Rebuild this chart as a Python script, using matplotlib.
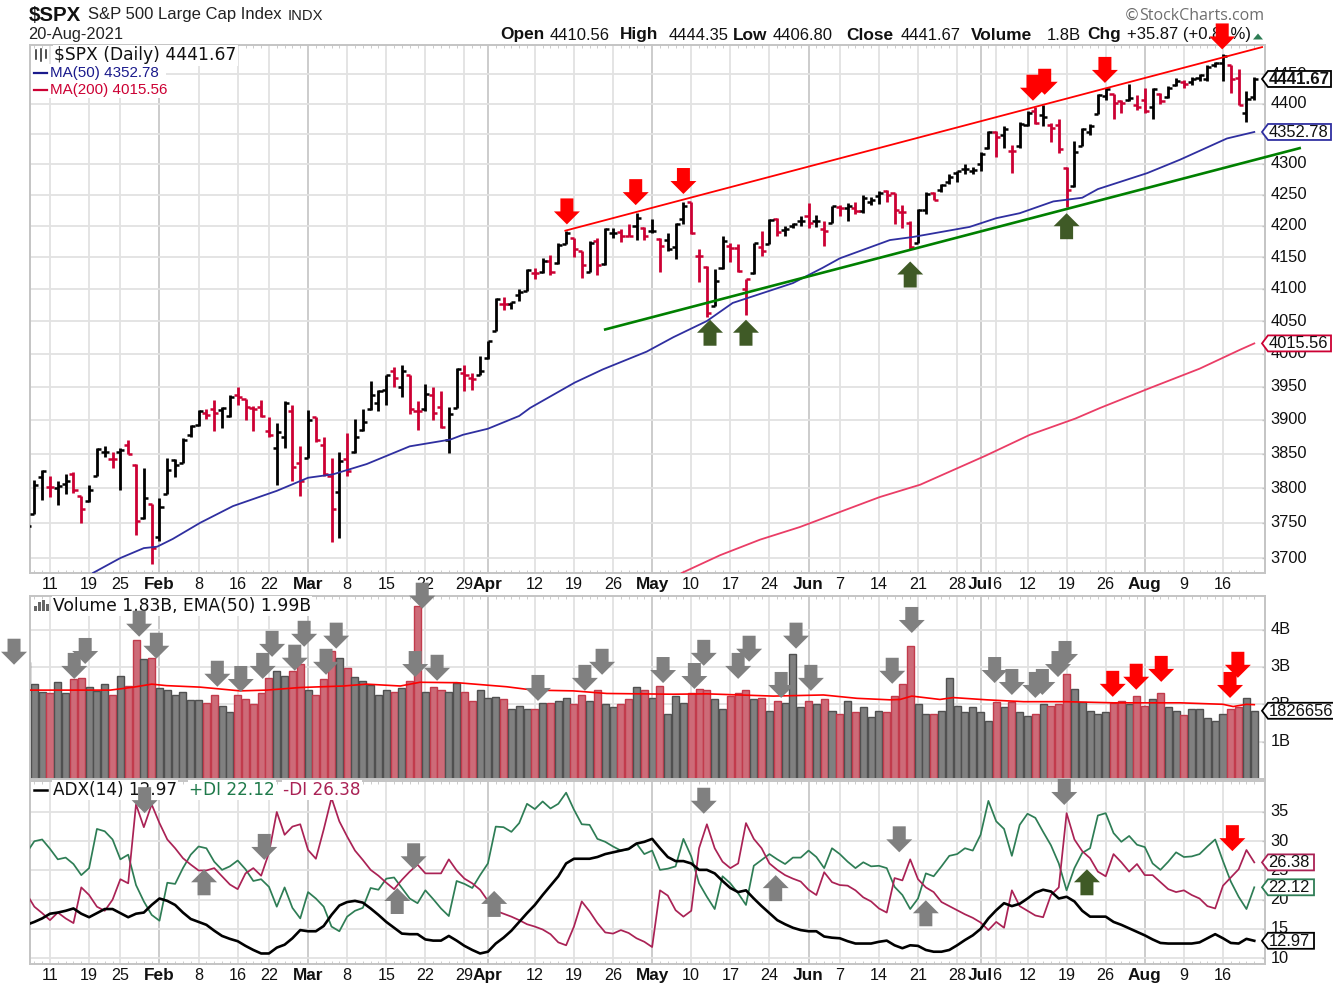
import numpy as np
import matplotlib
matplotlib.use('Agg')
import matplotlib.pyplot as plt
from matplotlib.patches import Polygon, Rectangle
from matplotlib.ticker import NullLocator
from matplotlib.transforms import ScaledTranslation

plt.rcParams['font.family'] = ['Liberation Sans', 'DejaVu Sans']

W, H = 1333, 990

# daily bars, starting three sessions before the 11 Jan gridline
opens = [3750, 3763, 3816, 3802, 3800, 3806, 3820, 3788, 3782, 3818,
         3853, 3842, 3852, 3863, 3834, 3757, 3777, 3730, 3792, 3841,
         3837, 3878, 3892, 3910, 3917, 3915, 3906, 3938, 3932, 3918,
         3920, 3883, 3858, 3875, 3913, 3837, 3844, 3904, 3863, 3818,
         3795, 3843, 3853, 3885, 3916, 3925, 3945, 3973, 3950, 3967,
         3913, 3917, 3937, 3919, 3870, 3918, 3971, 3963, 3967, 3993,
         4035, 4077, 4076, 4090, 4097, 4125, 4127, 4143, 4140, 4171,
         4180, 4160, 4127, 4175, 4139, 4188, 4190, 4184, 4199, 4196,
         4191, 4179, 4177, 4166, 4210, 4238, 4151, 4135, 4074, 4132,
         4168, 4165, 4099, 4125, 4166, 4171, 4210, 4193, 4200, 4207,
         4215, 4207, 4194, 4205, 4230, 4228, 4228, 4223, 4238, 4248,
         4256, 4252, 4222, 4205, 4173, 4225, 4252, 4258, 4271, 4285,
         4291, 4288, 4300, 4327, 4353, 4348, 4322, 4329, 4364, 4387,
         4381, 4365, 4365, 4294, 4264, 4330, 4353, 4383, 4413, 4416,
         4404, 4406, 4398, 4407, 4394, 4416, 4412, 4431, 4436, 4437,
         4444, 4442, 4466, 4468, 4465, 4443, 4385, 4410.56]
highs = [3760, 3812, 3827, 3817, 3811, 3821, 3823, 3788, 3805, 3859,
         3862, 3852, 3858, 3870, 3835, 3829, 3777, 3785, 3844, 3843,
         3873, 3893, 3915, 3917, 3930, 3920, 3938, 3949, 3932, 3921,
         3930, 3904, 3896, 3928, 3923, 3862, 3915, 3905, 3875, 3844,
         3853, 3880, 3902, 3917, 3959, 3945, 3968, 3980, 3982, 3968,
         3928, 3954, 3949, 3943, 3920, 3978, 3982, 3970, 3996, 4020,
         4085, 4087, 4080, 4099, 4131, 4133, 4148, 4153, 4172, 4192,
         4181, 4160, 4175, 4180, 4196, 4196, 4194, 4203, 4220, 4198,
         4211, 4181, 4188, 4204, 4238, 4238, 4163, 4136, 4131, 4183,
         4173, 4171, 4116, 4173, 4191, 4211, 4213, 4199, 4205, 4215,
         4236, 4217, 4207, 4232, 4233, 4237, 4238, 4250, 4246, 4256,
         4258, 4253, 4233, 4207, 4226, 4254, 4255, 4267, 4283, 4289,
         4300, 4295, 4320, 4355, 4355, 4362, 4332, 4369, 4387, 4394,
         4397, 4367, 4374, 4295, 4338, 4360, 4366, 4416, 4426, 4417,
         4407, 4434, 4414, 4426, 4426, 4418, 4430, 4443, 4440, 4445,
         4450, 4466, 4471, 4484, 4466, 4458, 4422, 4444.35]
lows = [3740, 3763, 3783, 3787, 3775, 3791, 3793, 3750, 3780, 3818,
        3846, 3829, 3797, 3849, 3733, 3756, 3692, 3724, 3791, 3816,
        3837, 3875, 3891, 3902, 3884, 3888, 3905, 3923, 3900, 3884,
        3904, 3875, 3804, 3858, 3811, 3788, 3844, 3868, 3818, 3722,
        3729, 3818, 3851, 3884, 3915, 3914, 3923, 3950, 3935, 3909,
        3885, 3913, 3900, 3888, 3851, 3918, 3943, 3945, 3967, 3992,
        4034, 4067, 4069, 4081, 4096, 4115, 4125, 4121, 4139, 4170,
        4150, 4117, 4126, 4122, 4138, 4181, 4174, 4183, 4177, 4177,
        4188, 4127, 4159, 4147, 4203, 4187, 4110, 4056, 4073, 4131,
        4142, 4126, 4060, 4124, 4152, 4170, 4183, 4184, 4196, 4200,
        4196, 4198, 4167, 4204, 4215, 4207, 4219, 4220, 4233, 4235,
        4238, 4203, 4197, 4163, 4172, 4218, 4242, 4255, 4267, 4271,
        4283, 4284, 4288, 4325, 4312, 4327, 4286, 4327, 4362, 4366,
        4362, 4336, 4318, 4230, 4262, 4329, 4348, 4382, 4406, 4374,
        4384, 4405, 4389, 4384, 4374, 4400, 4410, 4429, 4427, 4432,
        4439, 4439, 4462, 4439, 4418, 4397, 4370, 4406.80]
closes = [3745, 3804, 3825, 3802, 3803, 3810, 3797, 3770, 3797, 3857,
          3853, 3842, 3855, 3850, 3753, 3785, 3714, 3772, 3826, 3833,
          3871, 3891, 3913, 3908, 3911, 3918, 3935, 3935, 3920, 3917,
          3906, 3877, 3882, 3925, 3831, 3810, 3900, 3871, 3820, 3770,
          3840, 3825, 3875, 3897, 3937, 3943, 3967, 3963, 3973, 3916,
          3914, 3939, 3911, 3890, 3909, 3977, 3968, 3962, 3973, 4019,
          4084, 4077, 4079, 4095, 4130, 4125, 4143, 4127, 4169, 4188,
          4162, 4137, 4172, 4138, 4194, 4188, 4184, 4184, 4212, 4183,
          4192, 4167, 4162, 4203, 4231, 4188, 4151, 4062, 4113, 4175,
          4165, 4128, 4115, 4172, 4159, 4209, 4190, 4195, 4203, 4208,
          4205, 4208, 4192, 4231, 4229, 4231, 4223, 4244, 4242, 4253,
          4250, 4225, 4222, 4166, 4225, 4251, 4242, 4265, 4279, 4288,
          4291, 4290, 4317, 4352, 4344, 4358, 4322, 4366, 4384, 4367,
          4378, 4360, 4325, 4257, 4320, 4357, 4363, 4414, 4424, 4401,
          4401, 4410, 4394, 4387, 4424, 4404, 4427, 4439, 4434, 4442,
          4449, 4462, 4468, 4481, 4441, 4398, 4408, 4441.67]
down_days = [0, 3, 4, 8, 10, 11, 13, 20, 21, 24, 25, 26, 27, 28, 31, 32, 34, 35, 36, 38,
             44, 46, 47, 49, 50, 53, 54, 58, 62, 64, 67, 68, 70, 73, 74, 76, 78, 82, 83, 84,
             87, 88, 89, 91, 93, 97, 99, 101, 103, 107, 108, 109, 110, 113, 121, 123, 126,
             128, 129, 130, 136, 137, 139, 140, 142, 145, 151, 152]

ma50_days = [5.5, 9, 12, 13.7, 15.7, 19.2, 23.4, 29, 33, 36.2, 40.5, 46, 51.2, 52.8, 56, 60, 61.4,
             67.1, 70.7, 76.3, 79.7, 84, 87.3, 95, 98.8, 101, 107.4, 110.4, 117.6, 121, 124,
             128.3, 132, 134, 140.3, 144.5, 150.5, 154]
ma50 = [3679, 3700, 3714, 3716, 3727, 3750, 3774, 3796, 3815, 3820, 3835, 3861, 3871, 3878, 3887,
        3906, 3918, 3956, 3976, 4003, 4025, 4050, 4078, 4109, 4133, 4148, 4177, 4182, 4198,
        4212, 4220, 4239, 4245, 4259, 4285, 4307, 4342, 4352.78]
ma200_days = [80.8, 85.7, 90.8, 95.9, 99.7, 106.1, 111.3, 119.6, 125.3, 131.1, 134.3, 140.7, 147, 152.2, 154]
ma200 = [3679, 3704, 3726, 3744, 3760, 3787, 3805, 3847, 3878, 3902, 3918, 3948, 3977, 4006, 4015.56]

upper_channel = ([65.9, 155], [4192, 4496])
lower_channel = ([71, 159.8], [4037, 4326])

# volume in billions
volume = [3.14, 2.54, 2.34, 2.29, 2.59, 2.29, 2.67, 2.71, 2.46, 2.36,
          2.54, 2.25, 2.76, 2.50, 3.72, 3.21, 3.25, 2.43, 2.38, 2.25,
          2.34, 2.12, 2.12, 2.04, 2.25, 1.96, 1.79, 2.25, 2.13, 2.01,
          2.29, 2.71, 2.88, 2.76, 2.89, 3.08, 2.37, 2.25, 2.67, 3.43,
          3.25, 2.96, 2.74, 2.63, 2.52, 2.25, 2.38, 2.34, 2.43, 2.63,
          4.64, 2.34, 2.47, 2.38, 2.34, 2.58, 2.34, 2.09, 2.38, 2.18,
          2.20, 2.13, 1.88, 1.96, 1.88, 1.88, 2.04, 2.04, 2.09, 2.18,
          2.00, 2.25, 2.09, 2.38, 2.00, 1.92, 2.00, 2.13, 2.47, 2.38,
          2.18, 2.50, 1.74, 2.22, 2.04, 2.29, 2.42, 2.38, 2.13, 1.88,
          2.22, 2.29, 2.38, 2.13, 2.18, 1.83, 2.09, 2.04, 3.34, 1.92,
          2.09, 2.00, 2.13, 1.83, 1.74, 2.09, 1.79, 1.92, 1.67, 1.83,
          1.79, 2.22, 2.54, 3.56, 2.00, 1.74, 1.74, 1.83, 2.71, 1.96,
          1.79, 1.92, 1.79, 1.54, 2.05, 1.92, 2.05, 1.79, 1.70, 1.74,
          2.00, 1.96, 2.00, 2.80, 2.41, 2.05, 1.83, 1.74, 1.79, 2.03,
          2.09, 2.00, 2.22, 1.96, 2.13, 2.29, 1.92, 1.83, 1.71, 1.88,
          1.88, 1.63, 1.54, 1.74, 1.88, 1.94, 2.18, 1.83]
ema_days = [-3, 4.3, 7.7, 10.7, 13, 14.9, 19.2, 24.3, 27.7, 32, 37.5, 40.5, 44.8, 47.3, 51.2, 52,
            58.4, 61.8, 66.9, 71.2, 79.7, 84, 92.5, 98.9, 103.2, 107.4, 108.7, 110.2, 113.8,
            115.5, 119.8, 124.5, 130, 136, 144.5, 150, 151.3, 153, 154]
ema50 = [2.38, 2.38, 2.38, 2.46, 2.54, 2.50, 2.46, 2.36, 2.38, 2.45, 2.49, 2.54, 2.49, 2.59, 2.58, 2.58,
         2.47, 2.38, 2.36, 2.29, 2.27, 2.28, 2.22, 2.25, 2.16, 2.12, 2.13, 2.22, 2.13,
         2.18, 2.12, 2.07, 2.07, 2.04, 2.04, 2.00, 1.94, 2.00, 1.99]

plus_di = [28.0, 30.0, 30.3, 28.7, 26.9, 27.2, 26.1, 24.2, 25.4, 32.1,
           31.7, 30.3, 26.9, 27.7, 22.5, 19.7, 17.4, 16.4, 22.9, 22.7,
           25.4, 27.7, 29.1, 28.8, 26.5, 25.1, 25.7, 26.7, 25.2, 23.2,
           23.5, 22.2, 18.8, 22.1, 18.6, 16.8, 21.3, 20.2, 18.8, 15.4,
           14.6, 17.1, 18.1, 18.6, 22.0, 21.7, 23.6, 23.8, 22.0, 20.2,
           19.4, 21.6, 20.1, 18.5, 17.2, 23.2, 22.7, 22.0, 24.2, 26.2,
           32.5, 32.4, 31.6, 33.1, 36.4, 35.5, 36.8, 35.6, 36.4, 38.3,
           35.4, 32.9, 32.8, 30.4, 29.9, 29.1, 28.4, 28.6, 29.6, 27.8,
           28.4, 25.1, 25.3, 25.7, 30.4, 27.4, 22.8, 20.5, 18.4, 24.0,
           22.8, 21.1, 19.1, 25.8, 26.8, 27.8, 26.9, 26.1, 27.2, 27.2,
           28.4, 27.3, 25.4, 28.8, 27.8, 26.5, 25.4, 26.4, 25.7, 25.8,
           25.4, 22.2, 20.8, 18.4, 20.2, 24.5, 24.0, 25.7, 27.5, 27.8,
           28.8, 28.4, 31.1, 36.9, 33.4, 32.1, 27.5, 32.8, 34.7, 34.0,
           31.6, 29.3, 26.2, 21.6, 25.4, 28.0, 28.8, 34.4, 34.8, 31.4,
           29.9, 30.9, 29.4, 29.0, 26.2, 25.1, 26.5, 28.1, 27.3, 27.4,
           27.8, 29.1, 30.3, 26.6, 23.1, 20.5, 18.4, 22.12]
minus_di = [21.0, 18.8, 17.7, 16.5, 17.8, 16.8, 16.0, 22.1, 20.8, 18.8,
            18.1, 20.0, 23.5, 22.8, 36.3, 32.4, 36.3, 33.1, 30.3, 28.8,
            27.1, 26.0, 25.0, 25.0, 25.4, 24.0, 22.6, 21.8, 24.5, 25.4,
            24.1, 28.0, 35.0, 31.1, 32.5, 32.9, 28.5, 27.0, 32.0, 37.4,
            33.4, 30.8, 28.4, 26.8, 25.1, 24.1, 22.9, 21.8, 23.4, 24.8,
            26.0, 24.5, 24.5, 24.5, 26.9, 25.0, 23.6, 22.8, 21.7, 19.8,
            18.1, 17.6, 17.1, 16.5, 15.8, 15.4, 14.9, 14.1, 12.7, 12.2,
            15.4, 19.7, 18.0, 16.0, 14.4, 14.2, 14.8, 14.3, 13.4, 12.8,
            11.9, 21.6, 20.7, 18.2, 17.1, 18.1, 28.8, 32.9, 28.8, 26.5,
            25.4, 26.2, 33.1, 30.4, 28.8, 26.2, 25.1, 24.2, 23.6, 23.1,
            21.7, 20.8, 24.7, 23.0, 22.5, 22.4, 21.6, 20.4, 19.7, 18.5,
            17.8, 23.7, 23.3, 26.9, 23.5, 22.1, 21.3, 19.6, 18.9, 18.2,
            17.5, 16.9, 16.1, 14.8, 16.2, 15.2, 21.6, 18.9, 18.1, 17.3,
            17.0, 20.8, 22.1, 34.8, 30.3, 28.3, 27.1, 24.8, 24.0, 27.8,
            26.4, 24.8, 26.1, 24.2, 24.2, 23.0, 21.8, 21.3, 21.6, 20.8,
            20.2, 18.9, 18.5, 22.4, 23.8, 25.2, 28.5, 26.38]
adx = [15.7, 16.2, 16.8, 17.6, 17.8, 18.1, 18.5, 17.6, 17.0, 17.7,
       18.4, 18.4, 17.7, 17.0, 17.6, 17.8, 19.1, 20.2, 19.8, 19.1,
       17.8, 16.7, 16.2, 15.7, 14.7, 13.8, 13.3, 12.9, 12.1, 11.4,
       10.8, 10.8, 11.8, 12.3, 13.4, 14.8, 14.6, 14.6, 15.5, 17.4,
       19.0, 19.6, 19.8, 19.5, 18.5, 17.4, 16.2, 15.2, 14.2, 14.1,
       14.1, 13.2, 13.0, 13.0, 13.8, 13.0, 12.1, 11.4, 10.8, 11.1,
       12.5, 13.5, 14.7, 16.2, 17.7, 19.1, 20.8, 22.4, 24.0, 26.2,
       27.0, 27.0, 27.0, 27.3, 27.8, 28.1, 28.4, 28.7, 29.6, 29.9,
       30.4, 28.8, 27.3, 26.6, 26.6, 26.2, 25.1, 25.1, 24.5, 23.2,
       22.0, 21.3, 21.6, 20.2, 18.9, 17.7, 16.5, 15.8, 15.2, 14.8,
       14.6, 14.6, 13.7, 13.5, 13.4, 12.9, 12.5, 12.5, 12.5, 12.8,
       13.0, 12.2, 11.7, 12.2, 12.1, 11.4, 11.1, 11.1, 11.4, 12.2,
       13.1, 13.9, 15.0, 16.8, 18.2, 19.4, 18.9, 19.3, 20.2, 21.2,
       21.7, 21.4, 20.2, 20.5, 19.7, 18.1, 17.1, 17.1, 17.1, 16.2,
       15.7, 15.1, 14.5, 13.9, 13.2, 12.6, 12.5, 12.5, 12.5, 12.5,
       12.7, 13.4, 14.1, 13.4, 12.6, 12.5, 13.3, 12.97]

date_ticks = [0, 5, 9, 14, 19, 24, 28, 33, 38, 43, 48, 53, 56, 62, 67, 72, 77, 82, 87, 92,
              97, 101, 106, 111, 116, 119, 121, 125, 130, 135, 140, 145, 150]
date_labels = ['11', '19', '25', 'Feb', '8', '16', '22', 'Mar', '8', '15', '22', '29', 'Apr', '12',
               '19', '26', 'May', '10', '17', '24', 'Jun', '7', '14', '21', '28', 'Jul', '6', '12',
               '19', '26', 'Aug', '9', '16']
months = ['Feb', 'Mar', 'Apr', 'May', 'Jun', 'Jul', 'Aug']

price_ticks = list(range(3700, 4500, 50))
volume_ticks = [1, 2, 3, 4]
adx_ticks = [10, 15, 20, 25, 30, 35]

# annotation arrows: (session, value, colour, points up)
GREY, RED, DKGREEN = '#808080', '#ff0000', '#3f5a26'
price_arrows = [(66.1, 4202, RED, False), (74.9, 4233, RED, False), (81, 4251, RED, False),
                (125.7, 4405, RED, False), (127.2, 4415, RED, False), (134.9, 4435, RED, False),
                (149.9, 4492, RED, False), (84.4, 4052, DKGREEN, True), (89, 4052, DKGREEN, True),
                (110, 4143, DKGREEN, True), (130, 4220, DKGREEN, True)]
volume_arrows_grey = [(-4.6, 3.06), (4.5, 3.08), (3.1, 2.68), (11.4, 3.81), (13.6, 3.22), (21.4, 2.47),
                      (24.4, 2.33), (28.4, 3.27), (27.2, 2.68), (32.5, 3.54), (31.3, 2.90), (36.6, 3.49),
                      (35.3, 2.79), (47.6, 4.56), (46.7, 2.73), (49.5, 2.63), (62.4, 2.09), (68.4, 2.36),
                      (70.6, 2.79), (78.4, 2.57), (82.4, 2.41), (83.6, 3.03), (88, 2.68), (89.4, 3.14),
                      (93.5, 2.17), (95.4, 3.49), (97.3, 2.36), (107.7, 2.55), (110.2, 3.91), (120.8, 2.57),
                      (123, 2.25), (126, 2.17), (126.9, 2.25), (128.9, 2.73), (129.8, 3.00)]
volume_arrows_red = [(135.9, 2.20), (138.9, 2.39), (142.1, 2.60), (150.9, 2.17), (151.9, 2.71)]
adx_arrows = [(12.1, 34.8, GREY, False), (27.4, 26.8, GREY, False), (46.5, 25.2, GREY, False),
              (19.7, 25.2, GREY, True), (44.4, 22.0, GREY, True), (56.8, 21.5, GREY, True),
              (83.6, 34.7, GREY, False), (92.8, 24.2, GREY, True), (108.6, 28.1, GREY, False),
              (112, 19.9, GREY, True), (129.7, 36.2, GREY, False), (132.6, 25.2, DKGREEN, True),
              (151.2, 28.3, RED, False)]

BAR_RED = '#cc0033'
NAVY = '#2f2fa0'
DI_GREEN = '#2e7d55'
DI_RED = '#aa2255'
GRID = '#e2e2e2'
GRID_MONTH = '#c8c8c8'
SPINE = '#c4c4c4'

fig = plt.figure(figsize=(W / 100, H / 100), dpi=100, facecolor='white')


def panel(top, bottom, left=30, right=1265):
    return fig.add_axes([left / W, 1 - bottom / H, (right - left) / W, (bottom - top) / H])


ax1 = panel(45, 573)
ax2 = panel(596, 779)
ax3 = panel(781, 964)
xlim = ((30 - 50) / 7.82, (1265 - 50) / 7.82)

overlay = fig.add_axes([0, 0, 1, 1], zorder=10)
overlay.set_xlim(0, W)
overlay.set_ylim(H, 0)
overlay.axis('off')
overlay.patch.set_alpha(0)

x = np.arange(len(closes)) - 3
is_down = np.isin(x, down_days)
bar_colors = [BAR_RED if d else 'black' for d in is_down]

# price
ax1.set_yscale('log')
ax1.vlines(x, lows, highs, colors=bar_colors, lw=2.0, zorder=3)
ax1.hlines(opens, x - 0.52, x, colors=bar_colors, lw=1.8, zorder=3)
ax1.hlines(closes, x, x + 0.52, colors=bar_colors, lw=1.8, zorder=3)
ax1.plot(ma50_days, ma50, color=NAVY, lw=1.3, zorder=4)
ax1.plot(ma200_days, ma200, color='#ea3d66', lw=1.3, zorder=4)
ax1.set_ylim(3678.9, 4499.6)
ax1.plot(*upper_channel, color='#ff0000', lw=1.3, zorder=5, clip_on=False)
ax1.plot(*lower_channel, color='#008000', lw=1.9, zorder=5, clip_on=False)
ax1.set_yticks(price_ticks)
ax1.set_yticklabels([str(v) for v in price_ticks])
ax1.yaxis.set_minor_locator(NullLocator())

# volume
vol_fill = ['#cd6b78' if d else '#808080' for d in is_down]
vol_edge = ['#c23b4c' if d else '#505050' for d in is_down]
ax2.bar(x, volume, width=0.9, color=vol_fill, edgecolor=vol_edge, lw=1.0, zorder=2)
ax2.plot(ema_days, ema50, color='#ff0000', lw=1.2, zorder=4)
ax2.set_ylim(0, 4.9)
ax2.set_yticks(volume_ticks)
ax2.set_yticklabels([f'{v}B' for v in volume_ticks])

# ADX
ax3.plot(x, plus_di, color=DI_GREEN, lw=1.25, zorder=3)
ax3.plot(x, minus_di, color=DI_RED, lw=1.25, zorder=3)
ax3.plot(x, adx, color='black', lw=1.9, zorder=4)
ax3.set_ylim(9.0, 40.3)
ax3.set_yticks(adx_ticks)
ax3.set_yticklabels([str(v) for v in adx_ticks])

lift = ScaledTranslation(0, 1.5 / 72 * 0.72, fig.dpi_scale_trans)
for ax in (ax1, ax2, ax3):
    ax.set_xlim(*xlim)
    ax.set_axisbelow(True)
    ax.yaxis.tick_right()
    ax.tick_params(axis='y', length=2, width=1, color=SPINE, direction='in', pad=4,
                   labelsize=11.8, labelcolor='#111111')
    ax.grid(axis='y', color=GRID, lw=1.3)
    for label in ax.get_yticklabels():
        label.set_transform(label.get_transform() + lift)
    ax.set_xticks(date_ticks)
    ax.set_xticklabels(date_labels if ax is not ax2 else [])
    ax.tick_params(axis='x', length=0, pad=3, labelsize=11.6, labelcolor='#111111')
    ax.grid(axis='x', color=GRID, lw=1.3)
    for label in ax.get_xticklabels():
        if label.get_text() in months:
            label.set_fontweight('bold')
            label.set_fontsize(12.4)
    for tick_x, gridline in zip(date_ticks, ax.get_xgridlines()):
        if tick_x in (14, 33, 56, 77, 97, 119, 140):
            gridline.set_color(GRID_MONTH)
    ax.set_xticks(np.arange(-2, 155), minor=True)
    ax.tick_params(axis='x', which='minor', length=2, color=SPINE, top=True, bottom=True, direction='in')
    for spine in ax.spines.values():
        spine.set_color(SPINE)
        spine.set_linewidth(1.4)


def to_px(ax, i, v):
    return overlay.transData.inverted().transform(ax.transData.transform((i, v)))


def draw_arrow(ax, i, v, color, up=False):
    tx, ty = to_px(ax, i, v)
    s = 1 if up else -1
    pts = [(tx, ty), (tx + 13, ty + s * 13), (tx + 6.5, ty + s * 13), (tx + 6.5, ty + s * 26),
           (tx - 6.5, ty + s * 26), (tx - 6.5, ty + s * 13), (tx - 13, ty + s * 13)]
    overlay.add_patch(Polygon(pts, closed=True, fc=color, ec='none', zorder=6))


def draw_tag(ax, v, text, color, right=1331, bold=False):
    _, ty = to_px(ax, 0, v)
    pts = [(1262, ty), (1268, ty - 8), (right, ty - 8), (right, ty + 8), (1268, ty + 8)]
    overlay.add_patch(Polygon(pts, closed=True, fc='white', ec=color, lw=1.3, zorder=4))
    overlay.text(1268.5, ty + 0.5, text, ha='left', va='center', fontsize=12.2 if bold else 11.9, color='#111111',
                 fontweight='bold' if bold else 'normal', zorder=5)


for i, v, color, up in price_arrows:
    draw_arrow(ax1, i, v, color, up)
for i, v in volume_arrows_grey:
    draw_arrow(ax2, i, v, GREY)
for i, v in volume_arrows_red:
    draw_arrow(ax2, i, v, RED)
for i, v, color, up in adx_arrows:
    draw_arrow(ax3, i, v, color, up)

draw_tag(ax1, closes[-1], '4441.67', 'black', bold=True)
draw_tag(ax1, ma50[-1], '4352.78', NAVY)
draw_tag(ax1, ma200[-1], '4015.56', '#cc0033')
draw_tag(ax2, 1.826656, '1826656', 'black', right=1340)
draw_tag(ax3, minus_di[-1], '26.38', DI_RED, right=1314)
draw_tag(ax3, plus_di[-1], '22.12', DI_GREEN, right=1314)
draw_tag(ax3, adx[-1], '12.97', 'black', right=1314)


def put(px, py, text, size=11.8, weight='normal', color='#111111', family=None, **kw):
    kw.setdefault('zorder', 3)
    if family:
        kw['family'] = family
    overlay.text(px, py, text, fontsize=size, fontweight=weight, color=color, ha='left', va='center', **kw)


# header
put(29, 15.5, '$SPX', size=14.8, weight='bold')
put(88, 15, 'S&P 500 Large Cap Index', size=12.0, color='#222222')
put(288, 15.5, 'INDX', size=10.6, color='#222222')
put(28.5, 35, '20-Aug-2021', size=11.8, color='#222222')
for px, label, bold in [(500, 'Open', True), (550, '4410.56', False), (620, 'High', True), (669, '4444.35', False),
                        (733, 'Low', True), (773, '4406.80', False), (846, 'Close', True), (901, '4441.67', False),
                        (971, 'Volume', True), (1047, '1.8B', False), (1087, 'Chg', True),
                        (1127, '+35.87 (+0.81%)', False)]:
    put(px, 35, label, size=12.4 if bold else 12.0, weight='bold' if bold else 'normal')
overlay.add_patch(Polygon([(1253, 39.5), (1263, 39.5), (1258, 33.5)], closed=True, fc='#2e7d55', ec='none'))
put(1124, 15.5, '\u00a9', size=11.5, color='#6a6a6a', family='DejaVu Sans')
put(1139, 15.5, 'StockCharts.com', size=11.5, color='#6f6f6f', family='Open Sans')

# legends
white = dict(fc='white', ec='none', pad=1)
put(54, 55.5, '$SPX (Daily) 4441.67', size=12.3, family='DejaVu Sans', bbox=white)
for tick_x, a, b in [(36, 50, 59), (41, 49, 61), (46, 50, 58)]:
    overlay.plot([tick_x, tick_x], [a, b], color='#222222', lw=1.1, zorder=3)
overlay.add_patch(Rectangle((31, 64), 135, 34, fc='white', ec='none', zorder=2))
put(50, 73, 'MA(50) 4352.78', size=10.9, color='#1a1a8c')
put(50, 90, 'MA(200) 4015.56', size=10.9, color='#cc0033')
overlay.plot([34, 47], [72.5, 72.5], color='#1a1a8c', lw=1.6, zorder=3)
overlay.plot([34, 47], [89.5, 89.5], color='#cc0033', lw=1.6, zorder=3)

put(53, 606, 'Volume 1.83B, EMA(50) 1.99B', size=12.3, family='DejaVu Sans', bbox=white)
for bx, bh in zip([34, 38, 42, 46], [5, 9, 11, 7]):
    overlay.add_patch(Rectangle((bx, 611 - bh), 3, bh, fc='#666666', ec='none', zorder=3))
put(53, 790, 'ADX(14) 12.97', size=12.2, family='DejaVu Sans', bbox=white)
put(189, 790, '+DI 22.12', size=12.2, family='DejaVu Sans', color='#1f7a4a', bbox=white)
put(283, 790, '-DI 26.38', size=12.2, family='DejaVu Sans', color='#aa2255', bbox=white)
overlay.plot([34, 47], [790, 790], color='black', lw=1.8, zorder=3)

fig.savefig('out.png', dpi=100, facecolor='white')
